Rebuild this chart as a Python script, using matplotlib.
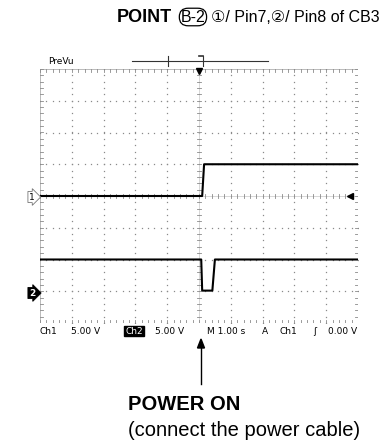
import numpy as np
import matplotlib.pyplot as plt
from matplotlib.lines import Line2D

W, H = 387, 441

# scope settings
volts_per_div = 5.0
ch1_ground = 0.0      # divisions from centre
ch2_ground = -3.0

# traces (time in s, volts)
ch1_t = [-5.0, 0.10, 0.16, 5.0]
ch1_v = [0.0, 0.0, 5.0, 5.0]
ch2_t = [-5.0, 0.07, 0.10, 0.42, 0.50, 5.0]
ch2_v = [5.0, 5.0, 0.1, 0.1, 5.0, 5.0]

readout = [("Ch1", 40), ("5.00 V", 71), ("5.00 V", 155), ("M 1.00 s", 207),
           ("A", 262), ("Ch1", 280), ("ʃ", 313), ("0.00 V", 328)]

fam = ['Liberation Sans', 'DejaVu Sans']


def fx(x):
    return x / W


def fy(y):
    return 1 - y / H


fig = plt.figure(figsize=(W / 100, H / 100), dpi=100)
fig.patch.set_facecolor('white')

ax = fig.add_axes([fx(40), fy(323), 318 / W, 254 / H])
ax.set_xlim(-5, 5)
ax.set_ylim(-4, 4)
ax.axis('off')

# graticule
g = '#8a8a8a'
ax.plot([-5, 5, 5, -5, -5], [-4, -4, 4, 4, -4], color='#b0b0b0', lw=0.6)
for xv in range(-4, 5):
    if xv == 0:
        continue
    yy = np.arange(-4, 4.01, 0.2)
    ax.plot([xv] * len(yy), yy, ls='none', marker='s', ms=0.9, color=g, mew=0)
for yv in range(-3, 4):
    if yv == 0:
        continue
    xx = np.arange(-5, 5.01, 0.2)
    ax.plot(xx, [yv] * len(xx), ls='none', marker='s', ms=0.9, color=g, mew=0)
# centre cross
ax.plot([-5, 5], [0, 0], color='#c8c8c8', lw=0.5)
ax.plot([0, 0], [-4, 4], color='#c8c8c8', lw=0.5)
for xx in np.arange(-5, 5.01, 0.2):
    ax.plot([xx, xx], [-0.07, 0.07], color=g, lw=0.6)
    ax.plot([xx, xx], [-4, -3.9], color=g, lw=0.6)
    ax.plot([xx, xx], [4, 3.9], color=g, lw=0.6)
for yy in np.arange(-4, 4.01, 0.2):
    ax.plot([-0.07, 0.07], [yy, yy], color=g, lw=0.6)
    ax.plot([-5, -4.9], [yy, yy], color=g, lw=0.6)
    ax.plot([5, 4.9], [yy, yy], color=g, lw=0.6)

# traces
ax.plot(ch1_t, np.array(ch1_v) / volts_per_div + ch1_ground, color='black', lw=1.5)
ax.plot(ch2_t, np.array(ch2_v) / volts_per_div + ch2_ground, color='black', lw=1.5)

# trigger markers
ax.plot([0], [3.93], marker='v', ms=5, color='black', clip_on=False)
ax.plot([4.75], [0], marker='<', ms=5, color='black', clip_on=False)

# channel ground markers
fig.text(fx(29), fy(197), "1", fontsize=6.5, ha='left', va='center', family='DejaVu Sans',
         bbox=dict(boxstyle='rarrow,pad=0.12', fc='white', ec='#777777', lw=0.6))
fig.text(fx(29), fy(293), "2", fontsize=6.5, ha='left', va='center', family='DejaVu Sans',
         color='white', weight='bold',
         bbox=dict(boxstyle='rarrow,pad=0.12', fc='black', ec='black', lw=0.6))

# PreVu bar
fig.text(fx(48), fy(62), "PreVu", fontsize=6.5, ha='left', va='center', family='DejaVu Sans')
fig.add_artist(Line2D([fx(132), fx(268)], [fy(61), fy(61)], color='#333333', lw=0.8))
fig.add_artist(Line2D([fx(168), fx(168)], [fy(56), fy(66)], color='#333333', lw=0.8))
fig.add_artist(Line2D([fx(203), fx(203)], [fy(56), fy(66)], color='#333333', lw=0.8))
fig.add_artist(Line2D([fx(199), fx(203)], [fy(56), fy(56)], color='#333333', lw=1.2))

# readout line
for txt, x in readout:
    fig.text(fx(x), fy(331), txt, fontsize=6.5, ha='left', va='center',
             family='DejaVu Sans')
fig.text(fx(125), fy(331), "Ch2", fontsize=6.5, ha='left', va='center', color='white',
         family='DejaVu Sans',
         bbox=dict(boxstyle='square,pad=0.1', fc='black', ec='black'))

# title: each piece chained onto the previous one
t1 = fig.text(fx(117), fy(17), "POINT", fontsize=13, weight='bold', ha='left', va='center',
              family=fam)
t2 = fig.add_artist(plt.Annotation("B-2", xy=(1, 0.5), xycoords=t1, xytext=(6, 0),
                                   textcoords='offset points', ha='left', va='center',
                                   fontsize=11.5, family=fam,
                                   bbox=dict(boxstyle='round,pad=0.08,rounding_size=0.55',
                                             fc='white', ec='black', lw=0.9)))
fig.add_artist(plt.Annotation("\u2460/ Pin7,\u2461/ Pin8 of CB3", xy=(1, 0.5), xycoords=t2,
                              xytext=(4, 0), textcoords='offset points', ha='left',
                              va='center', fontsize=11.5, family=fam))

# annotation
fig.add_artist(plt.Line2D([fx(201), fx(201)], [fy(384), fy(346)], color='black', lw=1.0))
fig.patches.append(plt.Polygon([[fx(197.5), fy(348)], [fx(204.5), fy(348)], [fx(201), fy(339)]],
                               closed=True, color='black', transform=fig.transFigure))
fig.text(fx(128), fy(404), "POWER ON", fontsize=14.5, weight='bold', ha='left', va='center',
         family=fam)
fig.text(fx(128), fy(430), "(connect the power cable)", fontsize=14.5, ha='left', va='center',
         family=fam)

fig.savefig('out.png', dpi=100)
